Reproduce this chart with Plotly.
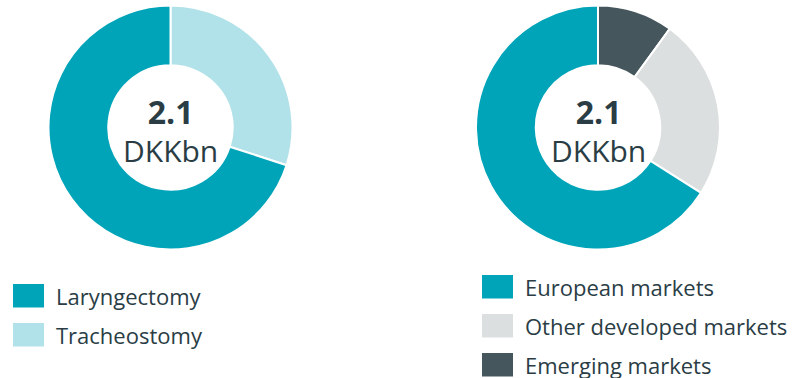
import plotly.graph_objects as go

W, H = 792, 378

# Data
left_labels = ["Tracheostomy", "Laryngectomy"]
left_values = [30, 70]
left_colors = ["#B2E2E9", "#00A4B9"]

right_labels = ["Emerging markets", "Other developed markets", "European markets"]
right_values = [10, 24, 66]
right_colors = ["#45565D", "#DCDFE0", "#00A4B9"]

center_value = "2.1"
center_unit = "DKKbn"

left_legend = ["Laryngectomy", "Tracheostomy"]
left_legend_colors = ["#00A4B9", "#B2E2E9"]
right_legend = ["European markets", "Other developed markets", "Emerging markets"]
right_legend_colors = ["#00A4B9", "#DCDFE0", "#45565D"]

TEXT = "#2A3D45"
FONT = "Open Sans"

def px_x(x):
    return x / W

def px_y(y):
    return 1 - y / H

fig = go.Figure()

fig.add_trace(go.Pie(
    labels=left_labels, values=left_values, sort=False, direction="clockwise",
    rotation=0, hole=0.51, marker=dict(colors=left_colors, line=dict(color="white", width=2)),
    textinfo="none", hoverinfo="label+value", showlegend=False,
    domain=dict(x=[px_x(48.5), px_x(292.5)], y=[px_y(249.5), px_y(5.5)]),
))
fig.add_trace(go.Pie(
    labels=right_labels, values=right_values, sort=False, direction="clockwise",
    rotation=0, hole=0.51, marker=dict(colors=right_colors, line=dict(color="white", width=2)),
    textinfo="none", hoverinfo="label+value", showlegend=False,
    domain=dict(x=[px_x(476), px_x(720)], y=[px_y(249.5), px_y(5.5)]),
))

annotations = []
shapes = []
for cx in (170.5, 598):
    annotations.append(dict(
        x=px_x(cx), y=px_y(130), xref="paper", yref="paper",
        text="<span style='font-size:32px'><b>" + center_value + "</b></span><br>"
             "<span style='font-size:30px'>" + center_unit + "</span>",
        showarrow=False, align="center",
        font=dict(family=FONT, size=29, color=TEXT),
        xanchor="center", yanchor="middle"))

def add_legend(items, colors, x0, y0, step):
    for i, (lab, col) in enumerate(zip(items, colors)):
        top = y0 + i * step
        shapes.append(dict(type="rect", xref="paper", yref="paper",
                           x0=px_x(x0), x1=px_x(x0 + 31), y0=px_y(top + 23.5), y1=px_y(top),
                           fillcolor=col, line=dict(width=0)))
        annotations.append(dict(x=px_x(x0 + 41), y=px_y(top + 12), xref="paper", yref="paper",
                                text=lab, showarrow=False, xanchor="left", yanchor="middle",
                                font=dict(family=FONT, size=22, color=TEXT)))

add_legend(left_legend, left_legend_colors, 13, 284, 39)
add_legend(right_legend, right_legend_colors, 482, 275, 39)

fig.update_layout(
    width=W, height=H, margin=dict(l=0, r=0, t=0, b=0),
    paper_bgcolor="white", plot_bgcolor="white",
    annotations=annotations, shapes=shapes,
)

fig.write_html("out.html", config={"displayModeBar": False},
               post_script="document.body.style.margin='0';document.body.style.overflow='hidden';")
